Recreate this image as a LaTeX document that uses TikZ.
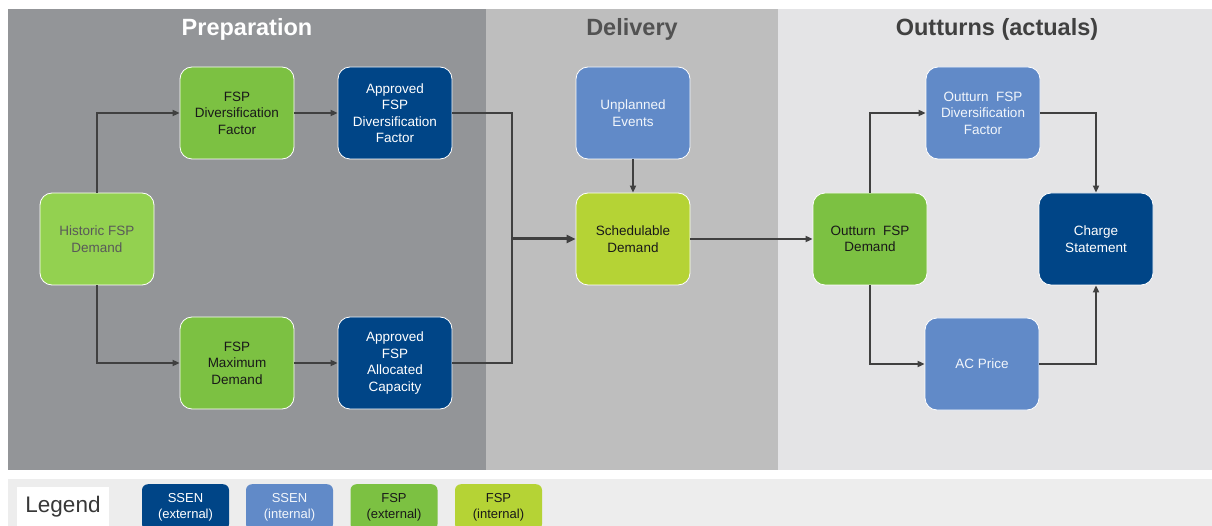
\documentclass[tikz,border=0pt]{standalone}
\usepackage{fontspec}
\setmainfont{Liberation Sans}
\usetikzlibrary{arrows.meta}
\definecolor{prepbg}{HTML}{939598}
\definecolor{delbg}{HTML}{BEBEBE}
\definecolor{outbg}{HTML}{E4E4E6}
\definecolor{legbg}{HTML}{EDEDED}
\definecolor{dblue}{HTML}{004587}
\definecolor{lblue}{HTML}{618AC8}
\definecolor{dgreen}{HTML}{7CC142}
\definecolor{lgreen}{HTML}{93D150}
\definecolor{lime}{HTML}{B5D335}
\definecolor{lineg}{HTML}{404040}
\tikzset{
  box/.style={draw=white, line width=0.8pt, rounded corners=12pt, minimum width=114pt, minimum height=92pt, align=center, font=\fontsize{13.5}{16.5}\selectfont, inner sep=2pt},
  ssenext/.style={box, fill=dblue, text=white},
  ssenint/.style={box, fill=lblue, text=white!92!lblue},
  fspext/.style={box, fill=dgreen, text=black!90},
  fsphist/.style={box, fill=lgreen, text=black!65},
  fspint/.style={box, fill=lime, text=black!90},
  conn/.style={draw=lineg, line width=1.8pt, -{Triangle[length=7pt,width=6pt]}},
  plain/.style={draw=lineg, line width=1.8pt},
  legbox/.style={draw=none, rounded corners=6pt, minimum width=87pt, minimum height=46pt, align=center, font=\fontsize{13}{16}\selectfont, anchor=north, inner sep=1pt},
  title/.style={font=\bfseries\fontsize{23.5}{26}\selectfont}
}
\begin{document}
\begin{tikzpicture}[x=1pt,y=-1pt]
\useasboundingbox (0,0) rectangle (1212,526);
\clip (0,0) rectangle (1212,526);
\fill[white] (0,0) rectangle (1212,526);
% panels
\fill[prepbg] (8,9) rectangle (486,470);
\fill[delbg] (486,9) rectangle (778,470);
\fill[outbg] (778,9) rectangle (1212,470);
\fill[legbg] (8,479) rectangle (1212,530);
\node[title, text=white] (tprep) at (247,29) {Preparation};
\node[title, text=black!68] (tdel) at (632,29) {Delivery};
\node[title, text=black!75] (tout) at (997,29) {Outturns (actuals)};
% nodes
\node[fsphist] (hist) at (97,239) {Historic FSP\\Demand};
\node[fspext] (fdiv) at (237,113) {FSP\\Diversification\\Factor};
\node[ssenext] (adiv) at (395,113) {Approved\\FSP\\Diversification\\Factor};
\node[fspext] (fmax) at (237,363) {FSP\\Maximum\\Demand};
\node[ssenext] (aalloc) at (395,363) {Approved\\FSP\\Allocated\\Capacity};
\node[ssenint] (unpl) at (633,113) {Unplanned\\Events};
\node[fspint] (sched) at (633,239) {Schedulable\\Demand};
\node[fspext] (odem) at (870,239) {Outturn\ \ FSP\\Demand};
\node[ssenint] (odiv) at (983,113) {Outturn\ \ FSP\\Diversification\\Factor};
\node[ssenext] (charge) at (1096,239) {Charge\\Statement};
\node[ssenint] (acp) at (982,364) {AC Price};
% connectors
\coordinate (merge) at (512,239);
\draw[conn] (hist.north) |- (fdiv.west);
\draw[conn] (hist.south) |- (fmax.west);
\draw[conn] (fdiv) -- (adiv);
\draw[conn] (fmax) -- (aalloc);
\draw[plain] (adiv.east) -| (merge);
\draw[plain] (aalloc.east) -| (merge);
\draw[conn, line width=3pt, -{Triangle[length=9pt,width=8pt]}] (merge) -- (sched.west);
\draw[conn] (unpl) -- (sched);
\draw[conn] (sched) -- (odem);
\draw[conn] (odem.north) |- (odiv.west);
\draw[conn] (odem.south) |- (acp.west);
\draw[conn] (odiv.east) -| (charge.north);
\draw[conn] (acp.east) -| (charge.south);
% legend
\node[fill=white, minimum width=92pt, minimum height=40pt, font=\fontsize{22.5}{24}\selectfont, text=black!78] (legend) at (63,507) {Legend};
\node[legbox, fill=dblue, text=white] (l1) at (185.5,484) {SSEN\\(external)};
\node[legbox, fill=lblue, text=white!92!lblue] (l2) at (289.5,484) {SSEN\\(internal)};
\node[legbox, fill=dgreen, text=black!90] (l3) at (394,484) {FSP\\(external)};
\node[legbox, fill=lime, text=black!90] (l4) at (498.5,484) {FSP\\(internal)};
\end{tikzpicture}
\end{document}
